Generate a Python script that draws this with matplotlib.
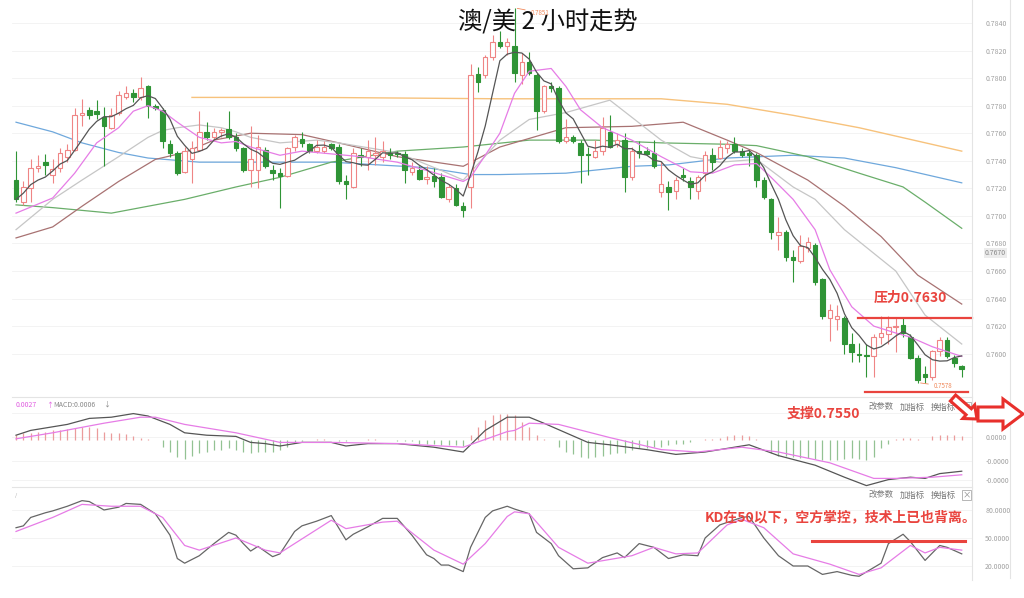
import numpy as np
import pandas as pd
import matplotlib
matplotlib.use('Agg')
import matplotlib.pyplot as plt
from matplotlib.patches import Polygon, Rectangle
from matplotlib.lines import Line2D

plt.rcParams['font.family'] = ['Noto Sans CJK SC', 'DejaVu Sans']

# 2h candles, AUD/USD
opens = [.7726, .7710, .7720, .7735, .7739, .7730, .7735, .7743, .7748, .7773,
         .7777, .7776, .7772, .7764, .7775, .7786, .7789, .7786, .7794, .7780,
         .7777, .7752, .7746, .7732, .7741, .7748, .7761, .7757, .7761, .7763,
         .7757, .7749, .7733, .7733, .7748, .7733, .7731, .7729, .7750, .7756,
         .7752, .7747, .7747, .7752, .7750, .7725, .7721, .7744, .7743, .7744,
         .7743, .7746, .7746, .7745, .7732, .7733, .7727, .7729, .7728, .7712,
         .7720, .7707, .7721, .7803, .7802, .7815, .7826, .7823, .7823, .7802,
         .7812, .7802, .7776, .7794, .7793, .7754, .7757, .7753, .7745, .7743,
         .7747, .7761, .7752, .7755, .7728, .7747, .7747, .7746, .7717, .7721,
         .7718, .7730, .7725, .7718, .7731, .7744, .7742, .7749, .7752, .7747,
         .7746, .7744, .7726, .7712, .7686, .7688, .7670, .7667, .7677, .7679,
         .7654, .7626, .7625, .7626, .7607, .7600, .7599, .7598, .7612, .7614,
         .7619, .7621, .7612, .7597, .7585, .7583, .7602, .7610, .7597, .7591]
closes = [.7712, .7721, .7735, .7736, .7737, .7734, .7746, .7748, .7773, .7775,
          .7773, .7774, .7765, .7773, .7788, .7789, .7786, .7793, .7780, .7778,
          .7754, .7746, .7731, .7747, .7749, .7761, .7757, .7761, .7762, .7757,
          .7749, .7733, .7741, .7750, .7736, .7731, .7729, .7749, .7757, .7753,
          .7747, .7750, .7750, .7749, .7725, .7723, .7746, .7743, .7747, .7746,
          .7747, .7744, .7745, .7733, .7735, .7727, .7728, .7725, .7714, .7721,
          .7708, .7704, .7802, .7797, .7815, .7826, .7823, .7826, .7804, .7812,
          .7804, .7776, .7794, .7793, .7754, .7757, .7754, .7744, .7744, .7747,
          .7764, .7750, .7755, .7728, .7747, .7746, .7745, .7736, .7723, .7717,
          .7726, .7728, .7721, .7728, .7744, .7739, .7750, .7752, .7747, .7744,
          .7744, .7726, .7714, .7688, .7688, .7670, .7668, .7678, .7681, .7652,
          .7627, .7632, .7627, .7607, .7601, .7599, .7598, .7612, .7615, .7619,
          .7620, .7615, .7597, .7581, .7583, .7602, .7610, .7598, .7593, .7589]
highs = [.7747, .7725, .7741, .7744, .7745, .7741, .7749, .7752, .7778, .7785,
         .7779, .7784, .7779, .7778, .7791, .7794, .7792, .7801, .7795, .7781,
         .7778, .7755, .7747, .7750, .7754, .7776, .7768, .7764, .7764, .7776,
         .7760, .7750, .7765, .7759, .7750, .7737, .7735, .7750, .7759, .7761,
         .7753, .7755, .7754, .7753, .7752, .7730, .7749, .7749, .7755, .7757,
         .7754, .7749, .7747, .7747, .7739, .7736, .7736, .7735, .7731, .7723,
         .7723, .7710, .7810, .7808, .7817, .7831, .7834, .7829, .7851, .7818,
         .7819, .7804, .7795, .7797, .7794, .7770, .7759, .7755, .7750, .7755,
         .7772, .7773, .7760, .7760, .7750, .7754, .7750, .7755, .7739, .7725,
         .7728, .7735, .7728, .7730, .7747, .7749, .7755, .7754, .7757, .7749,
         .7748, .7746, .7728, .7713, .7699, .7690, .7675, .7686, .7685, .7680,
         .7655, .7636, .7635, .7627, .7615, .7608, .7607, .7614, .7627, .7627,
         .7626, .7626, .7614, .7599, .7591, .7603, .7612, .7612, .7599, .7592]
lows = [.7710, .7708, .7710, .7732, .7730, .7724, .7732, .7739, .7747, .7765,
        .7770, .7770, .7736, .7763, .7773, .7785, .7783, .7784, .7771, .7777,
        .7749, .7743, .7730, .7731, .7724, .7747, .7755, .7754, .7757, .7756,
        .7747, .7732, .7721, .7720, .7735, .7726, .7706, .7728, .7747, .7750,
        .7746, .7746, .7746, .7748, .7723, .7712, .7720, .7736, .7733, .7737,
        .7739, .7741, .7743, .7724, .7730, .7726, .7723, .7721, .7713, .7710,
        .7707, .7699, .7706, .7790, .7800, .7813, .7822, .7817, .7797, .7796,
        .7802, .7762, .7775, .7790, .7753, .7753, .7753, .7724, .7730, .7742,
        .7744, .7749, .7750, .7717, .7726, .7742, .7744, .7735, .7714, .7704,
        .7712, .7725, .7712, .7712, .7725, .7733, .7741, .7746, .7746, .7743,
        .7736, .7721, .7712, .7683, .7675, .7667, .7652, .7666, .7674, .7650,
        .7625, .7609, .7617, .7600, .7594, .7594, .7583, .7583, .7607, .7607,
        .7601, .7612, .7596, .7579, .7579, .7581, .7598, .7597, .7590, .7583]

# moving averages read as knots (candle index, price)
ma10_idx = [0, 5, 8, 11, 14, 16, 18, 20, 22, 25, 28, 30, 32, 36, 39, 43, 47, 52, 56, 61, 62, 66,
            68, 70, 73, 75, 77, 80, 84, 88, 92, 95, 98, 101, 103, 106, 109, 111, 114, 117, 120,
            122, 125, 129]
ma10_val = [.7702, .7713, .7731, .7753, .7764, .7776, .7780, .7776, .7768, .7757, .7753, .7754,
            .7750, .7744, .7747, .7745, .7743, .7739, .7733, .7725, .7728, .7760, .7789, .7805,
            .7807, .7794, .7777, .7764, .7755, .7743, .7732, .7731, .7737, .7738, .7728, .7712,
            .7690, .7661, .7634, .7620, .7615, .7612, .7605, .7598]
ma20_idx = [0, 5, 9, 14, 18, 20, 22, 25, 28, 30, 32, 36, 41, 44, 52, 58, 61, 66, 70, 75, 81, 88,
            92, 96, 101, 106, 109, 113, 120, 124, 129]
ma20_val = [.7690, .7712, .7726, .7743, .7757, .7762, .7764, .7766, .7764, .7761, .7757, .7753,
            .7755, .7753, .7746, .7733, .7726, .7755, .7770, .7775, .7784, .7755, .7743, .7739,
            .7741, .7721, .7712, .7690, .7660, .7628, .7607]
ma30_idx = [0, 5, 9, 14, 19, 23, 27, 32, 39, 44, 52, 61, 66, 75, 84, 91, 97, 101, 108, 113, 118,
            123, 129]
ma30_val = [.7684, .7692, .7707, .7725, .7741, .7746, .7755, .7760, .7759, .7753, .7743, .7736,
            .7750, .7764, .7765, .7768, .7755, .7746, .7726, .7707, .7685, .7657, .7636]
ma60_idx = [0, 5, 9, 13, 18, 23, 30, 36, 43, 52, 61, 70, 79, 88, 97, 101, 108, 115, 121, 124, 129]
ma60_val = [.7708, .7706, .7704, .7702, .7707, .7712, .7721, .7728, .7739, .7747, .7750, .7755,
            .7755, .7753, .7752, .7751, .7743, .7731, .7721, .7710, .7691]
ma120_idx = [0, 5, 9, 14, 18, 25, 34, 43, 56, 62, 66, 75, 84, 89, 97, 106, 113, 120, 129]
ma120_val = [.7768, .7761, .7753, .7746, .7742, .7739, .7739, .7739, .7735, .7730, .7730, .7731,
             .7736, .7737, .7742, .7744, .7742, .7735, .7724]
ma250_idx = [24, 41, 66, 88, 97, 106, 115, 129]
ma250_val = [.7786, .7786, .7785, .7785, .7781, .7773, .7764, .7747]

price_ticks = [.7840, .7820, .7800, .7780, .7760, .7740, .7720, .7700, .7680, .7660, .7640,
               .7620, .7600]
last_price_label = '0.7670'

# MACD
dif_idx = [0, 2, 7, 10, 13, 16, 18, 21, 23, 26, 30, 32, 34, 36, 39, 43, 45, 48, 52, 57, 61, 64,
           67, 70, 72, 78, 81, 86, 90, 94, 99, 100, 104, 109, 113, 116, 119, 122, 124, 126, 129]
dif_val = [.0004, .0008, .0013, .0018, .0019, .0022, .0020, .0013, .0006, .0004, .0003, -.0002,
           -.0003, -.0005, -.0002, -.0002, -.0005, -.0003, -.0003, -.0006, -.0010, .0008, .0019,
           .0019, .0014, -.0002, -.0004, -.0008, -.0012, -.0010, -.0005, -.0004, -.0013, -.0021,
           -.0031, -.0038, -.0033, -.0031, -.0032, -.0028, -.0026]
dea_idx = [0, 5, 12, 17, 19, 23, 30, 36, 43, 52, 61, 67, 68, 70, 74, 81, 88, 93, 99, 104, 111,
           117, 120, 125, 129]
dea_val = [.0001, .0006, .0014, .0019, .0019, .0013, .0006, -.0002, -.0002, -.0003, -.0006,
           .0007, .0008, .0014, .0013, .0002, -.0008, -.0010, -.0006, -.0010, -.0019, -.0032,
           -.0032, -.0031, -.0029]
macd_hist = [.0004, .0006, .0006, .0007, .0007, .0008, .0008, .0009, .0010, .0011,
             .0011, .0010, .0007, .0006, .0006, .0005, .0003, .0002, .0001, 0,
             -.0006, -.0010, -.0014, -.0016, -.0013, -.0011, -.0010, -.0008, -.0008, -.0007,
             -.0008, -.0010, -.0011, -.0010, -.0010, -.0010, -.0008, -.0006,
             -.0002, -.0001, 0, .0001, .0001, 0, -.0001, -.0001, 0, 0, .0001, .0001, 0, 0,
             -.0001, -.0001, -.0001,
             -.0003, -.0003, -.0003, -.0004, -.0004, -.0004, -.0005,
             .0004, .0011, .0017, .0021, .0022, .0022, .0021, .0015, .0011, .0004, .0001, 0,
             -.0006, -.0010, -.0012, -.0014, -.0015, -.0014, -.0013, -.0012, -.0011, -.0011,
             -.0008, -.0007, -.0007, -.0006, -.0006, -.0004, -.0003, -.0003, -.0002,
             0, .0001, .0001, .0002, .0003, .0004, .0004, .0003, .0001, 0,
             -.0011, -.0013, -.0013, -.0014, -.0015, -.0015, -.0016, -.0017, -.0017, -.0017,
             -.0016, -.0015, -.0016, -.0017, -.0014, -.0007, -.0003,
             .0001, .0002, .0002, .0001, 0, .0003, .0004, .0004, .0004, .0003]
macd_ticks = [.00225, .00025, -.00175, -.00333]
macd_labels = ['0.0000', '0.0000', '-0.0000', '-0.0000']

# KD
k_idx = [0, 1, 2, 4, 5, 7, 9, 10, 12, 14, 15, 17, 19, 21, 22, 23, 25, 27, 29, 30, 31, 32, 33, 35,
         36, 38, 39, 41, 43, 45, 46, 48, 50, 52, 54, 56, 57, 58, 59, 61, 62, 64, 65, 67, 68, 70,
         71, 73, 74, 76, 78, 80, 82, 83, 85, 87, 89, 91, 93, 94, 96, 99, 100, 102, 104, 106, 108,
         110, 112, 114, 115, 118, 119, 121, 122, 124, 126, 127, 129]
k_val = [61, 63, 72, 77, 79, 84, 90, 89, 80, 83, 87, 86, 76, 53, 28, 23, 31, 44, 56, 53,
         44, 36, 41, 30, 33, 57, 63, 68, 74, 48, 54, 62, 71, 71, 53, 32, 28, 21, 21, 14,
         40, 72, 79, 84, 81, 76, 56, 44, 31, 17, 18, 29, 34, 29, 44, 40, 28, 32, 31, 50,
         64, 72, 73, 50, 31, 20, 20, 11, 14, 10, 9, 23, 44, 54, 46, 26, 42, 40, 33]
d_idx = [0, 5, 9, 13, 17, 20, 23, 25, 30, 34, 36, 43, 45, 50, 52, 57, 61, 64, 67, 68, 70, 74, 78,
         84, 87, 90, 93, 97, 99, 102, 106, 111, 115, 118, 122, 124, 126, 129]
d_val = [57, 72, 86, 84, 84, 72, 42, 37, 50, 37, 34, 69, 60, 67, 68, 37, 22, 44, 73, 78,
         76, 40, 23, 31, 40, 33, 34, 64, 70, 61, 33, 22, 11, 18, 42, 34, 40, 37]
kd_ticks = [80, 50, 20]
kd_labels = ['80.0000', '50.0000', '20.0000']

# hand-drawn marks on the screenshot
resist_level = 0.7626
support_level = 0.7572
kd_mark_level = 47

RED_UP = '#ef8585'
GREEN_DN = '#2f9436'
ANNO = '#e9443e'

W, H = 1024, 598


def fx(px):
    return px / W


def fy(py):
    return 1 - py / H


fig = plt.figure(figsize=(W / 100, H / 100), dpi=100)


def panel(top, bottom, left=12, right=972):
    return fig.add_axes([fx(left), fy(bottom), (right - left) / W, (bottom - top) / H])


n = len(opens)
x = np.arange(n)


def style(a, ticks, labels, ylim):
    a.set_xlim(-0.55, n + 0.4)
    a.set_ylim(*ylim)
    for s in a.spines.values():
        s.set_visible(False)
    a.set_xticks([])
    a.yaxis.tick_right()
    a.set_yticks(ticks)
    a.set_yticklabels(labels)
    a.tick_params(axis='y', length=0, pad=9.5, labelsize=5, labelcolor='#a0a0a0')
    for t in ticks:
        a.axhline(t, color='#f1f1f1', lw=0.6, zorder=0)


# ---- price panel
ax = panel(0, 395)
style(ax, price_ticks, ['%.4f' % t for t in price_ticks], (0.7570, 0.78567))

o = np.array(opens)
c = np.array(closes)
up = c >= o
cols = np.where(up, RED_UP, GREEN_DN)
ax.vlines(x, lows, highs, colors=cols, lw=0.8, zorder=3)
body_lo = np.minimum(o, c)
body_h = np.maximum(np.abs(c - o), 0.00004)
ax.bar(x, body_h, bottom=body_lo, width=0.62, color=np.where(up, 'white', GREEN_DN),
       edgecolor=cols, lw=0.8, zorder=4)

ma5 = pd.Series(closes).rolling(5, min_periods=1).mean()
ax.plot(ma250_idx, ma250_val, color='#f7c27c', lw=1.0, zorder=2)
ax.plot(ma120_idx, ma120_val, color='#6fa8dc', lw=0.9, zorder=2)
ax.plot(ma60_idx, ma60_val, color='#6aae6a', lw=0.9, zorder=2)
ax.plot(ma30_idx, ma30_val, color='#a87272', lw=0.9, zorder=2)
ax.plot(ma20_idx, ma20_val, color='#c6c6c6', lw=0.9, zorder=2)
ax.plot(ma10_idx, ma10_val, color='#e67ce6', lw=0.9, zorder=5)
ax.plot(x, ma5, color='#555555', lw=0.9, zorder=5)

ax.text(1.0135, 0.7673, last_price_label, transform=ax.get_yaxis_transform(), fontsize=5,
        color='#888888', va='center', ha='left',
        bbox=dict(boxstyle='square,pad=0.2', fc='#ececec', ec='none'))

# high / low markers
hi = int(np.argmax(highs))
lo = int(np.argmin(lows))
ax.annotate('%.4f' % highs[hi], xy=(hi, highs[hi]), xytext=(hi + 2.2, highs[hi] - 0.00035),
            fontsize=4.5, color='#f08a5d', va='center',
            arrowprops=dict(arrowstyle='-', color='#f08a5d', lw=0.6))
ax.annotate('%.4f' % 0.7578, xy=(lo, lows[lo]), xytext=(lo + 2.2, lows[lo] - 0.00025),
            fontsize=4.5, color='#f08a5d', va='center',
            arrowprops=dict(arrowstyle='-', color='#f08a5d', lw=0.6))

ax.axhline(resist_level, xmin=0.881, xmax=1.0, color=ANNO, lw=1.6, zorder=6, clip_on=False)
ax.axhline(support_level, xmin=0.889, xmax=0.996, color=ANNO, lw=1.6, zorder=6, clip_on=False)

# ---- MACD panel
axm = panel(398, 488)
style(axm, macd_ticks, macd_labels, (-0.0040, 0.0035))
h = np.array(macd_hist)
axm.vlines(x, 0, h, colors=np.where(h >= 0, '#eb9c9c', '#93c293'), lw=0.9, zorder=2)
axm.plot(dif_idx, dif_val, color='#555555', lw=0.9, zorder=3)
axm.plot(dea_idx, dea_val, color='#e67ce6', lw=0.9, zorder=3)

# ---- KD panel
axk = panel(490, 580)
style(axk, kd_ticks, kd_labels, (5, 101.4))
axk.plot(k_idx, k_val, color='#666666', lw=0.9, zorder=3)
axk.plot(d_idx, d_val, color='#e67ce6', lw=0.9, zorder=3)
axk.axhline(kd_mark_level, xmin=0.833, xmax=0.993, color=ANNO, lw=2.2, zorder=6)

# ---- frame lines of the screenshot
for x0, y0, x1, y1 in [(972, 0, 972, 580), (1010, 0, 1010, 578),
                       (12, 397, 972, 397), (12, 487, 972, 487)]:
    fig.add_artist(Line2D([fx(x0), fx(x1)], [fy(y0), fy(y1)], color='#e4e4e4', lw=0.8))

# ---- texts
fig.text(fx(548), fy(22), '澳/美 2 小时走势', ha='center', va='center', fontsize=17.5,
         color='#111111')
fig.text(fx(16), fy(405), '0.0027', fontsize=5, color='#e05ce0', va='center')
fig.text(fx(46), fy(405), '↑', fontsize=5, color='#e05ce0', va='center')
fig.text(fx(53), fy(405), 'MACD:0.0006', fontsize=5, color='#888888', va='center')
fig.text(fx(103), fy(405), '↓', fontsize=5, color='#888888', va='center')
fig.text(fx(15), fy(496), '/', fontsize=4, color='#aaaaaa', va='center')

for ty in (407, 495):
    for tx, s in [(881, '改参数'), (912, '加指标'), (943, '换指标')]:
        fig.text(fx(tx), fy(ty), s, fontsize=6, color='#777777', ha='center', va='center')
    fig.add_artist(Rectangle((fx(962), fy(ty + 5)), 9 / W, 10 / H, transform=fig.transFigure,
                             fill=False, ec='#aaaaaa', lw=0.6))
    fig.text(fx(966.5), fy(ty), '×', fontsize=6, color='#888888', ha='center', va='center')

fig.text(fx(910), fy(298), '压力0.7630', fontsize=10, color=ANNO, ha='center', va='center',
         fontweight='bold')
fig.text(fx(823), fy(414), '支撑0.7550', fontsize=10, color=ANNO, ha='center', va='center',
         fontweight='bold')
fig.text(fx(841), fy(517), 'KD在50以下，空方掌控，技术上已也背离。', fontsize=10, color=ANNO,
         ha='center', va='center', fontweight='bold')


def block_arrow(tail, tip, shaft_w, head_w, head_len):
    t = np.array(tail, float)
    p = np.array(tip, float)
    d = p - t
    u = d / np.hypot(*d)
    nr = np.array([-u[1], u[0]])
    b = p - u * head_len
    pts = [t + nr * shaft_w, b + nr * shaft_w, b + nr * head_w, p,
           b - nr * head_w, b - nr * shaft_w, t - nr * shaft_w]
    return [(fx(q[0]), fy(q[1])) for q in pts]


for tail, tip, sw, hw, hl in [((953, 398), (977, 419), 4, 9, 11),
                              ((978, 414), (1023, 414), 7, 15, 20)]:
    fig.add_artist(Polygon(block_arrow(tail, tip, sw, hw, hl), closed=True,
                           transform=fig.transFigure, fc='white', ec='#e8302c', lw=2.2,
                           zorder=10))

fig.savefig('out.png', dpi=100)
